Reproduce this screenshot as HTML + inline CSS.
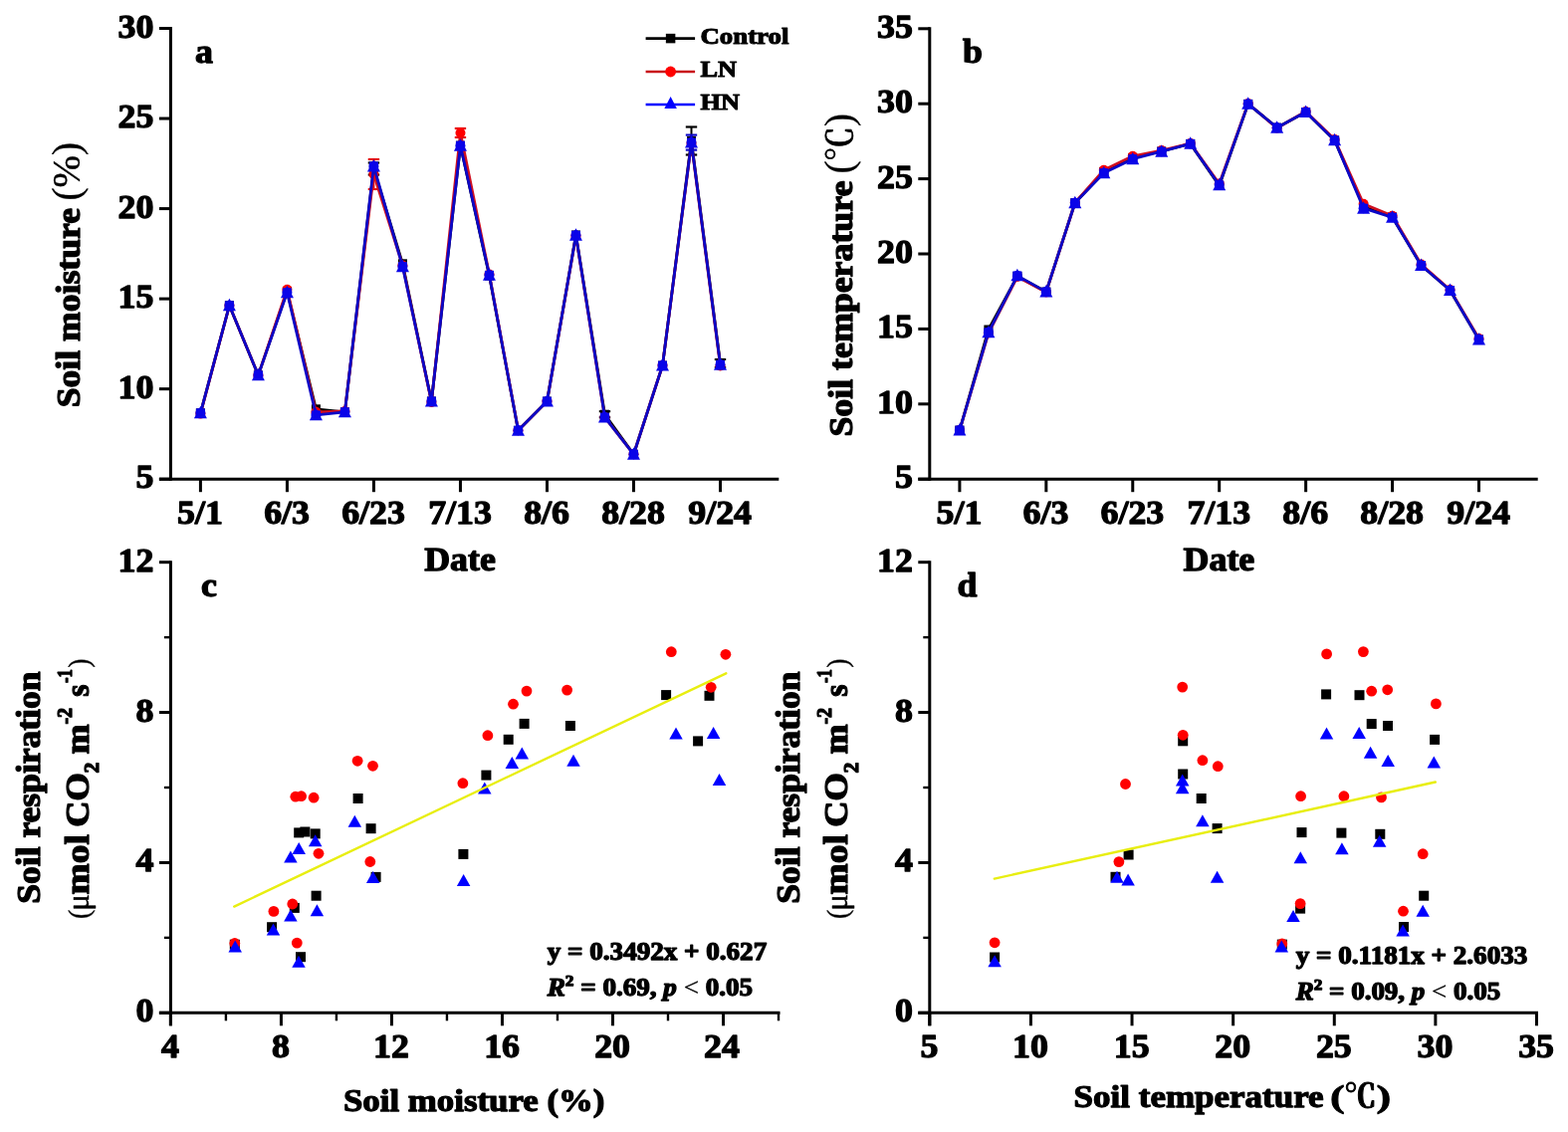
<!DOCTYPE html>
<html lang="en"><head><meta charset="utf-8"><title>Soil moisture, temperature and respiration</title>
<style>html,body{margin:0;padding:0;background:#fff}svg{display:block}text{white-space:pre}</style></head>
<body>
<svg width="1575" height="1137" viewBox="0 0 1575 1137" font-family='"Liberation Serif", serif' fill="#000">
<style>text{stroke:#000;stroke-width:1.25px;stroke-linejoin:round}</style>
<rect width="1575" height="1137" fill="#fff"/>
<g id="panel-a">
<line x1="171.40" y1="27.00" x2="171.40" y2="482.70" stroke="#000" stroke-width="3.0" />
<line x1="159.90" y1="481.20" x2="782.30" y2="481.20" stroke="#000" stroke-width="3.0" />
<line x1="159.90" y1="28.50" x2="171.40" y2="28.50" stroke="#000" stroke-width="3.0" />
<text transform="translate(154.40,37.50) scale(1.07,1)" font-size="33.5" text-anchor="end" font-weight="bold" >30</text>
<line x1="159.90" y1="119.04" x2="171.40" y2="119.04" stroke="#000" stroke-width="3.0" />
<text transform="translate(154.40,128.04) scale(1.07,1)" font-size="33.5" text-anchor="end" font-weight="bold" >25</text>
<line x1="159.90" y1="209.58" x2="171.40" y2="209.58" stroke="#000" stroke-width="3.0" />
<text transform="translate(154.40,218.58) scale(1.07,1)" font-size="33.5" text-anchor="end" font-weight="bold" >20</text>
<line x1="159.90" y1="300.12" x2="171.40" y2="300.12" stroke="#000" stroke-width="3.0" />
<text transform="translate(154.40,309.12) scale(1.07,1)" font-size="33.5" text-anchor="end" font-weight="bold" >15</text>
<line x1="159.90" y1="390.66" x2="171.40" y2="390.66" stroke="#000" stroke-width="3.0" />
<text transform="translate(154.40,399.66) scale(1.07,1)" font-size="33.5" text-anchor="end" font-weight="bold" >10</text>
<line x1="159.90" y1="481.20" x2="171.40" y2="481.20" stroke="#000" stroke-width="3.0" />
<text transform="translate(154.40,490.20) scale(1.07,1)" font-size="33.5" text-anchor="end" font-weight="bold" >5</text>
<line x1="201.40" y1="481.20" x2="201.40" y2="494.20" stroke="#000" stroke-width="3.0" />
<text transform="translate(201.00,526.00) scale(1.07,1)" font-size="33.5" text-anchor="middle" font-weight="bold" >5/1</text>
<line x1="288.42" y1="481.20" x2="288.42" y2="494.20" stroke="#000" stroke-width="3.0" />
<text transform="translate(288.02,526.00) scale(1.07,1)" font-size="33.5" text-anchor="middle" font-weight="bold" >6/3</text>
<line x1="375.43" y1="481.20" x2="375.43" y2="494.20" stroke="#000" stroke-width="3.0" />
<text transform="translate(375.03,526.00) scale(1.07,1)" font-size="33.5" text-anchor="middle" font-weight="bold" >6/23</text>
<line x1="462.45" y1="481.20" x2="462.45" y2="494.20" stroke="#000" stroke-width="3.0" />
<text transform="translate(462.05,526.00) scale(1.07,1)" font-size="33.5" text-anchor="middle" font-weight="bold" >7/13</text>
<line x1="549.47" y1="481.20" x2="549.47" y2="494.20" stroke="#000" stroke-width="3.0" />
<text transform="translate(549.07,526.00) scale(1.07,1)" font-size="33.5" text-anchor="middle" font-weight="bold" >8/6</text>
<line x1="636.48" y1="481.20" x2="636.48" y2="494.20" stroke="#000" stroke-width="3.0" />
<text transform="translate(636.08,526.00) scale(1.07,1)" font-size="33.5" text-anchor="middle" font-weight="bold" >8/28</text>
<line x1="723.50" y1="481.20" x2="723.50" y2="494.20" stroke="#000" stroke-width="3.0" />
<text transform="translate(723.10,526.00) scale(1.07,1)" font-size="33.5" text-anchor="middle" font-weight="bold" >9/24</text>
<text transform="translate(196.00,63.30) scale(1.07,1)" font-size="33.5" text-anchor="start" font-weight="bold" >a</text>
<text transform="translate(462.00,573.40) scale(1.07,1)" font-size="33.5" text-anchor="middle" font-weight="bold" >Date</text>
<text transform="translate(80.4,0) rotate(-90)" text-anchor="start"><tspan x="-409.3" y="0" font-size="33.5" font-weight="bold" textLength="200.3" lengthAdjust="spacingAndGlyphs">Soil moisture</tspan><tspan x="-206" y="0" font-size="20"> </tspan><tspan x="-201.5" y="-0.1" font-size="39" font-weight="normal" stroke-width="0.35">(%)</tspan></text>
<line x1="694.49" y1="127.50" x2="694.49" y2="155.50" stroke="#000" stroke-width="2" />
<line x1="688.79" y1="127.50" x2="700.19" y2="127.50" stroke="#000" stroke-width="2.2" />
<line x1="688.79" y1="155.50" x2="700.19" y2="155.50" stroke="#000" stroke-width="2.2" />
<line x1="375.43" y1="163.50" x2="375.43" y2="175.50" stroke="#000" stroke-width="2" />
<line x1="369.73" y1="163.50" x2="381.13" y2="163.50" stroke="#000" stroke-width="2.2" />
<line x1="369.73" y1="175.50" x2="381.13" y2="175.50" stroke="#000" stroke-width="2.2" />
<line x1="607.48" y1="413.20" x2="607.48" y2="419.20" stroke="#000" stroke-width="2" />
<line x1="601.78" y1="413.20" x2="613.18" y2="413.20" stroke="#000" stroke-width="2.2" />
<line x1="601.78" y1="419.20" x2="613.18" y2="419.20" stroke="#000" stroke-width="2.2" />
<line x1="723.50" y1="361.00" x2="723.50" y2="369.00" stroke="#000" stroke-width="2" />
<line x1="717.80" y1="361.00" x2="729.20" y2="361.00" stroke="#000" stroke-width="2.2" />
<line x1="717.80" y1="369.00" x2="729.20" y2="369.00" stroke="#000" stroke-width="2.2" />
<polyline points="201.4,414.8 230.4,306.8 259.4,376.9 288.4,292.5 317.4,410.8 346.4,413.8 375.4,169.5 404.4,264.8 433.4,403.0 462.5,146.2 491.5,277.0 520.5,432.3 549.5,403.1 578.5,236.0 607.5,416.2 636.5,456.3 665.5,367.1 694.5,141.5 723.5,365.0" fill="none" stroke="#000" stroke-width="2.8" stroke-linejoin="round"/>
<rect x="196.90" y="410.30" width="9" height="9" fill="#000"/>
<rect x="225.91" y="302.30" width="9" height="9" fill="#000"/>
<rect x="254.91" y="372.40" width="9" height="9" fill="#000"/>
<rect x="283.92" y="288.00" width="9" height="9" fill="#000"/>
<rect x="312.92" y="406.30" width="9" height="9" fill="#000"/>
<rect x="341.93" y="409.30" width="9" height="9" fill="#000"/>
<rect x="370.93" y="165.00" width="9" height="9" fill="#000"/>
<rect x="399.94" y="260.30" width="9" height="9" fill="#000"/>
<rect x="428.94" y="398.50" width="9" height="9" fill="#000"/>
<rect x="457.95" y="141.70" width="9" height="9" fill="#000"/>
<rect x="486.96" y="272.50" width="9" height="9" fill="#000"/>
<rect x="515.96" y="427.80" width="9" height="9" fill="#000"/>
<rect x="544.97" y="398.60" width="9" height="9" fill="#000"/>
<rect x="573.97" y="231.50" width="9" height="9" fill="#000"/>
<rect x="602.98" y="411.70" width="9" height="9" fill="#000"/>
<rect x="631.98" y="451.80" width="9" height="9" fill="#000"/>
<rect x="660.99" y="362.60" width="9" height="9" fill="#000"/>
<rect x="689.99" y="137.00" width="9" height="9" fill="#000"/>
<rect x="719.00" y="360.50" width="9" height="9" fill="#000"/>
<line x1="375.43" y1="160.00" x2="375.43" y2="190.00" stroke="#e81010" stroke-width="2" />
<line x1="369.73" y1="160.00" x2="381.13" y2="160.00" stroke="#e81010" stroke-width="2.2" />
<line x1="369.73" y1="190.00" x2="381.13" y2="190.00" stroke="#e81010" stroke-width="2.2" />
<line x1="462.45" y1="129.00" x2="462.45" y2="138.00" stroke="#e81010" stroke-width="2" />
<line x1="456.75" y1="129.00" x2="468.15" y2="129.00" stroke="#e81010" stroke-width="2.2" />
<line x1="456.75" y1="138.00" x2="468.15" y2="138.00" stroke="#e81010" stroke-width="2.2" />
<polyline points="201.4,415.6 230.4,306.8 259.4,376.9 288.4,290.8 317.4,413.8 346.4,413.0 375.4,175.0 404.4,266.5 433.4,404.0 462.5,133.5 491.5,275.5 520.5,432.3 549.5,403.1 578.5,237.0 607.5,419.1 636.5,456.3 665.5,367.1 694.5,144.0 723.5,367.5" fill="none" stroke="#d01020" stroke-width="2.8" stroke-linejoin="round"/>
<circle cx="201.40" cy="415.60" r="5" fill="#f00"/>
<circle cx="230.41" cy="306.80" r="5" fill="#f00"/>
<circle cx="259.41" cy="376.90" r="5" fill="#f00"/>
<circle cx="288.42" cy="290.80" r="5" fill="#f00"/>
<circle cx="317.42" cy="413.80" r="5" fill="#f00"/>
<circle cx="346.43" cy="413.00" r="5" fill="#f00"/>
<circle cx="375.43" cy="175.00" r="5" fill="#f00"/>
<circle cx="404.44" cy="266.50" r="5" fill="#f00"/>
<circle cx="433.44" cy="404.00" r="5" fill="#f00"/>
<circle cx="462.45" cy="133.50" r="5" fill="#f00"/>
<circle cx="491.46" cy="275.50" r="5" fill="#f00"/>
<circle cx="520.46" cy="432.30" r="5" fill="#f00"/>
<circle cx="549.47" cy="403.10" r="5" fill="#f00"/>
<circle cx="578.47" cy="237.00" r="5" fill="#f00"/>
<circle cx="607.48" cy="419.10" r="5" fill="#f00"/>
<circle cx="636.48" cy="456.30" r="5" fill="#f00"/>
<circle cx="665.49" cy="367.10" r="5" fill="#f00"/>
<circle cx="694.49" cy="144.00" r="5" fill="#f00"/>
<circle cx="723.50" cy="367.50" r="5" fill="#f00"/>
<line x1="694.49" y1="135.60" x2="694.49" y2="150.60" stroke="#0c06c6" stroke-width="2" />
<line x1="688.79" y1="135.60" x2="700.19" y2="135.60" stroke="#0c06c6" stroke-width="2.2" />
<line x1="688.79" y1="150.60" x2="700.19" y2="150.60" stroke="#0c06c6" stroke-width="2.2" />
<polyline points="201.4,414.8 230.4,306.8 259.4,376.9 288.4,293.8 317.4,416.9 346.4,413.8 375.4,167.0 404.4,267.7 433.4,403.0 462.5,146.2 491.5,276.3 520.5,432.3 549.5,403.1 578.5,236.3 607.5,419.1 636.5,456.3 665.5,367.1 694.5,143.1 723.5,366.2" fill="none" stroke="#0c06c6" stroke-width="2.8" stroke-linejoin="round"/>
<rect x="196.90" y="410.30" width="9" height="9" fill="#0a04e8"/>
<circle cx="201.40" cy="414.80" r="5" fill="#0a04e8"/>
<polygon points="201.40,407.75 194.90,420.25 207.90,420.25" fill="#0a04e8"/>
<rect x="225.91" y="302.30" width="9" height="9" fill="#0a04e8"/>
<circle cx="230.41" cy="306.80" r="5" fill="#0a04e8"/>
<polygon points="230.41,299.75 223.91,312.25 236.91,312.25" fill="#0a04e8"/>
<rect x="254.91" y="372.40" width="9" height="9" fill="#0a04e8"/>
<circle cx="259.41" cy="376.90" r="5" fill="#0a04e8"/>
<polygon points="259.41,369.85 252.91,382.35 265.91,382.35" fill="#0a04e8"/>
<rect x="283.92" y="289.30" width="9" height="9" fill="#0a04e8"/>
<circle cx="288.42" cy="293.80" r="5" fill="#0a04e8"/>
<polygon points="288.42,286.75 281.92,299.25 294.92,299.25" fill="#0a04e8"/>
<rect x="312.92" y="412.40" width="9" height="9" fill="#0a04e8"/>
<circle cx="317.42" cy="416.90" r="5" fill="#0a04e8"/>
<polygon points="317.42,409.85 310.92,422.35 323.92,422.35" fill="#0a04e8"/>
<rect x="341.93" y="409.30" width="9" height="9" fill="#0a04e8"/>
<circle cx="346.43" cy="413.80" r="5" fill="#0a04e8"/>
<polygon points="346.43,406.75 339.93,419.25 352.93,419.25" fill="#0a04e8"/>
<rect x="370.93" y="162.50" width="9" height="9" fill="#0a04e8"/>
<circle cx="375.43" cy="167.00" r="5" fill="#0a04e8"/>
<polygon points="375.43,159.95 368.93,172.45 381.93,172.45" fill="#0a04e8"/>
<rect x="399.94" y="263.20" width="9" height="9" fill="#0a04e8"/>
<circle cx="404.44" cy="267.70" r="5" fill="#0a04e8"/>
<polygon points="404.44,260.65 397.94,273.15 410.94,273.15" fill="#0a04e8"/>
<rect x="428.94" y="398.50" width="9" height="9" fill="#0a04e8"/>
<circle cx="433.44" cy="403.00" r="5" fill="#0a04e8"/>
<polygon points="433.44,395.95 426.94,408.45 439.94,408.45" fill="#0a04e8"/>
<rect x="457.95" y="141.70" width="9" height="9" fill="#0a04e8"/>
<circle cx="462.45" cy="146.20" r="5" fill="#0a04e8"/>
<polygon points="462.45,139.15 455.95,151.65 468.95,151.65" fill="#0a04e8"/>
<rect x="486.96" y="271.80" width="9" height="9" fill="#0a04e8"/>
<circle cx="491.46" cy="276.30" r="5" fill="#0a04e8"/>
<polygon points="491.46,269.25 484.96,281.75 497.96,281.75" fill="#0a04e8"/>
<rect x="515.96" y="427.80" width="9" height="9" fill="#0a04e8"/>
<circle cx="520.46" cy="432.30" r="5" fill="#0a04e8"/>
<polygon points="520.46,425.25 513.96,437.75 526.96,437.75" fill="#0a04e8"/>
<rect x="544.97" y="398.60" width="9" height="9" fill="#0a04e8"/>
<circle cx="549.47" cy="403.10" r="5" fill="#0a04e8"/>
<polygon points="549.47,396.05 542.97,408.55 555.97,408.55" fill="#0a04e8"/>
<rect x="573.97" y="231.80" width="9" height="9" fill="#0a04e8"/>
<circle cx="578.47" cy="236.30" r="5" fill="#0a04e8"/>
<polygon points="578.47,229.25 571.97,241.75 584.97,241.75" fill="#0a04e8"/>
<rect x="602.98" y="414.60" width="9" height="9" fill="#0a04e8"/>
<circle cx="607.48" cy="419.10" r="5" fill="#0a04e8"/>
<polygon points="607.48,412.05 600.98,424.55 613.98,424.55" fill="#0a04e8"/>
<rect x="631.98" y="451.80" width="9" height="9" fill="#0a04e8"/>
<circle cx="636.48" cy="456.30" r="5" fill="#0a04e8"/>
<polygon points="636.48,449.25 629.98,461.75 642.98,461.75" fill="#0a04e8"/>
<rect x="660.99" y="362.60" width="9" height="9" fill="#0a04e8"/>
<circle cx="665.49" cy="367.10" r="5" fill="#0a04e8"/>
<polygon points="665.49,360.05 658.99,372.55 671.99,372.55" fill="#0a04e8"/>
<rect x="689.99" y="138.60" width="9" height="9" fill="#0a04e8"/>
<circle cx="694.49" cy="143.10" r="5" fill="#0a04e8"/>
<polygon points="694.49,136.05 687.99,148.55 700.99,148.55" fill="#0a04e8"/>
<rect x="719.00" y="361.70" width="9" height="9" fill="#0a04e8"/>
<circle cx="723.50" cy="366.20" r="5" fill="#0a04e8"/>
<polygon points="723.50,359.15 717.00,371.65 730.00,371.65" fill="#0a04e8"/>
<line x1="648.60" y1="38.60" x2="698.10" y2="38.60" stroke="#000" stroke-width="2.7" />
<rect x="668.85" y="33.85" width="9.5" height="9.5" fill="#000"/>
<text transform="translate(703.40,44.00) scale(1,1)" font-size="22.6" text-anchor="start" font-weight="bold" style="stroke-width:1px" textLength="89.0" lengthAdjust="spacingAndGlyphs">Control</text>
<line x1="648.60" y1="72.00" x2="698.10" y2="72.00" stroke="#c81018" stroke-width="2.7" />
<circle cx="673.60" cy="72.00" r="5.4" fill="#f00"/>
<text transform="translate(703.40,76.60) scale(1,1)" font-size="22.6" text-anchor="start" font-weight="bold" style="stroke-width:1px" textLength="36.5" lengthAdjust="spacingAndGlyphs">LN</text>
<line x1="648.60" y1="105.00" x2="698.10" y2="105.00" stroke="#0000ff" stroke-width="2.7" />
<polygon points="673.60,96.90 667.35,108.90 679.85,108.90" fill="#00f"/>
<text transform="translate(703.40,109.80) scale(1,1)" font-size="22.6" text-anchor="start" font-weight="bold" style="stroke-width:1px" textLength="39.5" lengthAdjust="spacingAndGlyphs">HN</text>
</g>
<g id="panel-b">
<line x1="933.80" y1="27.30" x2="933.80" y2="482.70" stroke="#000" stroke-width="3.0" />
<line x1="922.30" y1="481.20" x2="1544.70" y2="481.20" stroke="#000" stroke-width="3.0" />
<line x1="922.30" y1="28.80" x2="933.80" y2="28.80" stroke="#000" stroke-width="3.0" />
<text transform="translate(916.80,37.80) scale(1.07,1)" font-size="33.5" text-anchor="end" font-weight="bold" >35</text>
<line x1="922.30" y1="104.20" x2="933.80" y2="104.20" stroke="#000" stroke-width="3.0" />
<text transform="translate(916.80,113.20) scale(1.07,1)" font-size="33.5" text-anchor="end" font-weight="bold" >30</text>
<line x1="922.30" y1="179.60" x2="933.80" y2="179.60" stroke="#000" stroke-width="3.0" />
<text transform="translate(916.80,188.60) scale(1.07,1)" font-size="33.5" text-anchor="end" font-weight="bold" >25</text>
<line x1="922.30" y1="255.00" x2="933.80" y2="255.00" stroke="#000" stroke-width="3.0" />
<text transform="translate(916.80,264.00) scale(1.07,1)" font-size="33.5" text-anchor="end" font-weight="bold" >20</text>
<line x1="922.30" y1="330.40" x2="933.80" y2="330.40" stroke="#000" stroke-width="3.0" />
<text transform="translate(916.80,339.40) scale(1.07,1)" font-size="33.5" text-anchor="end" font-weight="bold" >15</text>
<line x1="922.30" y1="405.80" x2="933.80" y2="405.80" stroke="#000" stroke-width="3.0" />
<text transform="translate(916.80,414.80) scale(1.07,1)" font-size="33.5" text-anchor="end" font-weight="bold" >10</text>
<line x1="922.30" y1="481.20" x2="933.80" y2="481.20" stroke="#000" stroke-width="3.0" />
<text transform="translate(916.80,490.20) scale(1.07,1)" font-size="33.5" text-anchor="end" font-weight="bold" >5</text>
<line x1="963.90" y1="481.20" x2="963.90" y2="494.20" stroke="#000" stroke-width="3.0" />
<text transform="translate(963.50,526.00) scale(1.07,1)" font-size="33.5" text-anchor="middle" font-weight="bold" >5/1</text>
<line x1="1050.83" y1="481.20" x2="1050.83" y2="494.20" stroke="#000" stroke-width="3.0" />
<text transform="translate(1050.43,526.00) scale(1.07,1)" font-size="33.5" text-anchor="middle" font-weight="bold" >6/3</text>
<line x1="1137.77" y1="481.20" x2="1137.77" y2="494.20" stroke="#000" stroke-width="3.0" />
<text transform="translate(1137.37,526.00) scale(1.07,1)" font-size="33.5" text-anchor="middle" font-weight="bold" >6/23</text>
<line x1="1224.70" y1="481.20" x2="1224.70" y2="494.20" stroke="#000" stroke-width="3.0" />
<text transform="translate(1224.30,526.00) scale(1.07,1)" font-size="33.5" text-anchor="middle" font-weight="bold" >7/13</text>
<line x1="1311.63" y1="481.20" x2="1311.63" y2="494.20" stroke="#000" stroke-width="3.0" />
<text transform="translate(1311.23,526.00) scale(1.07,1)" font-size="33.5" text-anchor="middle" font-weight="bold" >8/6</text>
<line x1="1398.57" y1="481.20" x2="1398.57" y2="494.20" stroke="#000" stroke-width="3.0" />
<text transform="translate(1398.17,526.00) scale(1.07,1)" font-size="33.5" text-anchor="middle" font-weight="bold" >8/28</text>
<line x1="1485.50" y1="481.20" x2="1485.50" y2="494.20" stroke="#000" stroke-width="3.0" />
<text transform="translate(1485.10,526.00) scale(1.07,1)" font-size="33.5" text-anchor="middle" font-weight="bold" >9/24</text>
<text transform="translate(967.00,63.30) scale(1.07,1)" font-size="33.5" text-anchor="start" font-weight="bold" >b</text>
<text transform="translate(1224.40,573.40) scale(1.07,1)" font-size="33.5" text-anchor="middle" font-weight="bold" >Date</text>
<text transform="translate(855.6,0) rotate(-90)" text-anchor="start"><tspan x="-438.6" y="0" font-size="33.5" font-weight="bold" textLength="257" lengthAdjust="spacingAndGlyphs">Soil temperature</tspan><tspan x="-180" y="0" font-size="20"> </tspan><tspan x="-174.5" y="0.1" font-size="39" font-weight="normal" stroke-width="0.3">(</tspan><tspan x="-162.2" y="0" font-size="35.5" font-weight="500" stroke-width="0.6" font-family='"Noto Serif CJK SC",serif'>℃</tspan><tspan x="-126.9" y="0.1" font-size="39" font-weight="normal" stroke-width="0.3">)</tspan></text>
<polyline points="963.9,432.1 992.9,331.0 1021.9,277.5 1050.8,293.1 1079.8,203.7 1108.8,172.5 1137.8,158.5 1166.7,152.0 1195.7,144.4 1224.7,186.5 1253.7,104.4 1282.7,128.2 1311.6,112.5 1340.6,140.9 1369.6,207.5 1398.6,218.0 1427.5,266.5 1456.5,291.5 1485.5,341.0" fill="none" stroke="#000" stroke-width="2.8" stroke-linejoin="round"/>
<rect x="959.40" y="427.60" width="9" height="9" fill="#000"/>
<rect x="988.38" y="326.50" width="9" height="9" fill="#000"/>
<rect x="1017.36" y="273.00" width="9" height="9" fill="#000"/>
<rect x="1046.33" y="288.60" width="9" height="9" fill="#000"/>
<rect x="1075.31" y="199.20" width="9" height="9" fill="#000"/>
<rect x="1104.29" y="168.00" width="9" height="9" fill="#000"/>
<rect x="1133.27" y="154.00" width="9" height="9" fill="#000"/>
<rect x="1162.24" y="147.50" width="9" height="9" fill="#000"/>
<rect x="1191.22" y="139.90" width="9" height="9" fill="#000"/>
<rect x="1220.20" y="182.00" width="9" height="9" fill="#000"/>
<rect x="1249.18" y="99.90" width="9" height="9" fill="#000"/>
<rect x="1278.16" y="123.70" width="9" height="9" fill="#000"/>
<rect x="1307.13" y="108.00" width="9" height="9" fill="#000"/>
<rect x="1336.11" y="136.40" width="9" height="9" fill="#000"/>
<rect x="1365.09" y="203.00" width="9" height="9" fill="#000"/>
<rect x="1394.07" y="213.50" width="9" height="9" fill="#000"/>
<rect x="1423.04" y="262.00" width="9" height="9" fill="#000"/>
<rect x="1452.02" y="287.00" width="9" height="9" fill="#000"/>
<rect x="1481.00" y="336.50" width="9" height="9" fill="#000"/>
<polyline points="963.9,432.1 992.9,334.5 1021.9,278.0 1050.8,293.5 1079.8,203.7 1108.8,170.8 1137.8,156.8 1166.7,151.0 1195.7,144.0 1224.7,184.5 1253.7,104.0 1282.7,128.6 1311.6,112.0 1340.6,140.0 1369.6,204.8 1398.6,216.8 1427.5,265.5 1456.5,291.0 1485.5,340.0" fill="none" stroke="#d01020" stroke-width="2.8" stroke-linejoin="round"/>
<circle cx="963.90" cy="432.10" r="5" fill="#f00"/>
<circle cx="992.88" cy="334.50" r="5" fill="#f00"/>
<circle cx="1021.86" cy="278.00" r="5" fill="#f00"/>
<circle cx="1050.83" cy="293.50" r="5" fill="#f00"/>
<circle cx="1079.81" cy="203.70" r="5" fill="#f00"/>
<circle cx="1108.79" cy="170.80" r="5" fill="#f00"/>
<circle cx="1137.77" cy="156.80" r="5" fill="#f00"/>
<circle cx="1166.74" cy="151.00" r="5" fill="#f00"/>
<circle cx="1195.72" cy="144.00" r="5" fill="#f00"/>
<circle cx="1224.70" cy="184.50" r="5" fill="#f00"/>
<circle cx="1253.68" cy="104.00" r="5" fill="#f00"/>
<circle cx="1282.66" cy="128.60" r="5" fill="#f00"/>
<circle cx="1311.63" cy="112.00" r="5" fill="#f00"/>
<circle cx="1340.61" cy="140.00" r="5" fill="#f00"/>
<circle cx="1369.59" cy="204.80" r="5" fill="#f00"/>
<circle cx="1398.57" cy="216.80" r="5" fill="#f00"/>
<circle cx="1427.54" cy="265.50" r="5" fill="#f00"/>
<circle cx="1456.52" cy="291.00" r="5" fill="#f00"/>
<circle cx="1485.50" cy="340.00" r="5" fill="#f00"/>
<polyline points="963.9,432.1 992.9,333.8 1021.9,276.9 1050.8,293.1 1079.8,203.7 1108.8,173.7 1137.8,159.7 1166.7,152.2 1195.7,144.4 1224.7,185.8 1253.7,104.4 1282.7,128.2 1311.6,112.5 1340.6,140.9 1369.6,209.2 1398.6,218.3 1427.5,266.5 1456.5,291.5 1485.5,341.0" fill="none" stroke="#0c06c6" stroke-width="2.8" stroke-linejoin="round"/>
<rect x="959.40" y="427.60" width="9" height="9" fill="#0a04e8"/>
<circle cx="963.90" cy="432.10" r="5" fill="#0a04e8"/>
<polygon points="963.90,425.05 957.40,437.55 970.40,437.55" fill="#0a04e8"/>
<rect x="988.38" y="329.30" width="9" height="9" fill="#0a04e8"/>
<circle cx="992.88" cy="333.80" r="5" fill="#0a04e8"/>
<polygon points="992.88,326.75 986.38,339.25 999.38,339.25" fill="#0a04e8"/>
<rect x="1017.36" y="272.40" width="9" height="9" fill="#0a04e8"/>
<circle cx="1021.86" cy="276.90" r="5" fill="#0a04e8"/>
<polygon points="1021.86,269.85 1015.36,282.35 1028.36,282.35" fill="#0a04e8"/>
<rect x="1046.33" y="288.60" width="9" height="9" fill="#0a04e8"/>
<circle cx="1050.83" cy="293.10" r="5" fill="#0a04e8"/>
<polygon points="1050.83,286.05 1044.33,298.55 1057.33,298.55" fill="#0a04e8"/>
<rect x="1075.31" y="199.20" width="9" height="9" fill="#0a04e8"/>
<circle cx="1079.81" cy="203.70" r="5" fill="#0a04e8"/>
<polygon points="1079.81,196.65 1073.31,209.15 1086.31,209.15" fill="#0a04e8"/>
<rect x="1104.29" y="169.20" width="9" height="9" fill="#0a04e8"/>
<circle cx="1108.79" cy="173.70" r="5" fill="#0a04e8"/>
<polygon points="1108.79,166.65 1102.29,179.15 1115.29,179.15" fill="#0a04e8"/>
<rect x="1133.27" y="155.20" width="9" height="9" fill="#0a04e8"/>
<circle cx="1137.77" cy="159.70" r="5" fill="#0a04e8"/>
<polygon points="1137.77,152.65 1131.27,165.15 1144.27,165.15" fill="#0a04e8"/>
<rect x="1162.24" y="147.70" width="9" height="9" fill="#0a04e8"/>
<circle cx="1166.74" cy="152.20" r="5" fill="#0a04e8"/>
<polygon points="1166.74,145.15 1160.24,157.65 1173.24,157.65" fill="#0a04e8"/>
<rect x="1191.22" y="139.90" width="9" height="9" fill="#0a04e8"/>
<circle cx="1195.72" cy="144.40" r="5" fill="#0a04e8"/>
<polygon points="1195.72,137.35 1189.22,149.85 1202.22,149.85" fill="#0a04e8"/>
<rect x="1220.20" y="181.30" width="9" height="9" fill="#0a04e8"/>
<circle cx="1224.70" cy="185.80" r="5" fill="#0a04e8"/>
<polygon points="1224.70,178.75 1218.20,191.25 1231.20,191.25" fill="#0a04e8"/>
<rect x="1249.18" y="99.90" width="9" height="9" fill="#0a04e8"/>
<circle cx="1253.68" cy="104.40" r="5" fill="#0a04e8"/>
<polygon points="1253.68,97.35 1247.18,109.85 1260.18,109.85" fill="#0a04e8"/>
<rect x="1278.16" y="123.70" width="9" height="9" fill="#0a04e8"/>
<circle cx="1282.66" cy="128.20" r="5" fill="#0a04e8"/>
<polygon points="1282.66,121.15 1276.16,133.65 1289.16,133.65" fill="#0a04e8"/>
<rect x="1307.13" y="108.00" width="9" height="9" fill="#0a04e8"/>
<circle cx="1311.63" cy="112.50" r="5" fill="#0a04e8"/>
<polygon points="1311.63,105.45 1305.13,117.95 1318.13,117.95" fill="#0a04e8"/>
<rect x="1336.11" y="136.40" width="9" height="9" fill="#0a04e8"/>
<circle cx="1340.61" cy="140.90" r="5" fill="#0a04e8"/>
<polygon points="1340.61,133.85 1334.11,146.35 1347.11,146.35" fill="#0a04e8"/>
<rect x="1365.09" y="204.70" width="9" height="9" fill="#0a04e8"/>
<circle cx="1369.59" cy="209.20" r="5" fill="#0a04e8"/>
<polygon points="1369.59,202.15 1363.09,214.65 1376.09,214.65" fill="#0a04e8"/>
<rect x="1394.07" y="213.80" width="9" height="9" fill="#0a04e8"/>
<circle cx="1398.57" cy="218.30" r="5" fill="#0a04e8"/>
<polygon points="1398.57,211.25 1392.07,223.75 1405.07,223.75" fill="#0a04e8"/>
<rect x="1423.04" y="262.00" width="9" height="9" fill="#0a04e8"/>
<circle cx="1427.54" cy="266.50" r="5" fill="#0a04e8"/>
<polygon points="1427.54,259.45 1421.04,271.95 1434.04,271.95" fill="#0a04e8"/>
<rect x="1452.02" y="287.00" width="9" height="9" fill="#0a04e8"/>
<circle cx="1456.52" cy="291.50" r="5" fill="#0a04e8"/>
<polygon points="1456.52,284.45 1450.02,296.95 1463.02,296.95" fill="#0a04e8"/>
<rect x="1481.00" y="336.50" width="9" height="9" fill="#0a04e8"/>
<circle cx="1485.50" cy="341.00" r="5" fill="#0a04e8"/>
<polygon points="1485.50,333.95 1479.00,346.45 1492.00,346.45" fill="#0a04e8"/>
</g>
<g id="panel-c">
<line x1="171.40" y1="563.20" x2="171.40" y2="1030.30" stroke="#000" stroke-width="3.0" />
<line x1="159.90" y1="1017.30" x2="783.50" y2="1017.30" stroke="#000" stroke-width="3.0" />
<line x1="159.90" y1="564.70" x2="171.40" y2="564.70" stroke="#000" stroke-width="3.0" />
<text transform="translate(154.40,573.70) scale(1.07,1)" font-size="33.5" text-anchor="end" font-weight="bold" >12</text>
<line x1="159.90" y1="715.57" x2="171.40" y2="715.57" stroke="#000" stroke-width="3.0" />
<text transform="translate(154.40,724.57) scale(1.07,1)" font-size="33.5" text-anchor="end" font-weight="bold" >8</text>
<line x1="159.90" y1="866.43" x2="171.40" y2="866.43" stroke="#000" stroke-width="3.0" />
<text transform="translate(154.40,875.43) scale(1.07,1)" font-size="33.5" text-anchor="end" font-weight="bold" >4</text>
<line x1="159.90" y1="1017.30" x2="171.40" y2="1017.30" stroke="#000" stroke-width="3.0" />
<text transform="translate(154.40,1026.30) scale(1.07,1)" font-size="33.5" text-anchor="end" font-weight="bold" >0</text>
<line x1="164.90" y1="640.13" x2="171.40" y2="640.13" stroke="#000" stroke-width="2.4" />
<line x1="164.90" y1="791.00" x2="171.40" y2="791.00" stroke="#000" stroke-width="2.4" />
<line x1="164.90" y1="941.87" x2="171.40" y2="941.87" stroke="#000" stroke-width="2.4" />
<line x1="171.40" y1="1017.30" x2="171.40" y2="1030.30" stroke="#000" stroke-width="3.0" />
<text transform="translate(171.00,1062.10) scale(1.07,1)" font-size="33.5" text-anchor="middle" font-weight="bold" >4</text>
<line x1="282.42" y1="1017.30" x2="282.42" y2="1030.30" stroke="#000" stroke-width="3.0" />
<text transform="translate(282.02,1062.10) scale(1.07,1)" font-size="33.5" text-anchor="middle" font-weight="bold" >8</text>
<line x1="393.44" y1="1017.30" x2="393.44" y2="1030.30" stroke="#000" stroke-width="3.0" />
<text transform="translate(393.04,1062.10) scale(1.07,1)" font-size="33.5" text-anchor="middle" font-weight="bold" >12</text>
<line x1="504.46" y1="1017.30" x2="504.46" y2="1030.30" stroke="#000" stroke-width="3.0" />
<text transform="translate(504.06,1062.10) scale(1.07,1)" font-size="33.5" text-anchor="middle" font-weight="bold" >16</text>
<line x1="615.48" y1="1017.30" x2="615.48" y2="1030.30" stroke="#000" stroke-width="3.0" />
<text transform="translate(615.08,1062.10) scale(1.07,1)" font-size="33.5" text-anchor="middle" font-weight="bold" >20</text>
<line x1="726.50" y1="1017.30" x2="726.50" y2="1030.30" stroke="#000" stroke-width="3.0" />
<text transform="translate(724.90,1062.10) scale(1.07,1)" font-size="33.5" text-anchor="middle" font-weight="bold" >24</text>
<line x1="226.91" y1="1017.30" x2="226.91" y2="1025.30" stroke="#000" stroke-width="2.4" />
<line x1="337.93" y1="1017.30" x2="337.93" y2="1025.30" stroke="#000" stroke-width="2.4" />
<line x1="448.95" y1="1017.30" x2="448.95" y2="1025.30" stroke="#000" stroke-width="2.4" />
<line x1="559.97" y1="1017.30" x2="559.97" y2="1025.30" stroke="#000" stroke-width="2.4" />
<line x1="670.99" y1="1017.30" x2="670.99" y2="1025.30" stroke="#000" stroke-width="2.4" />
<line x1="782.01" y1="1017.30" x2="782.01" y2="1025.30" stroke="#000" stroke-width="2.4" />
<text transform="translate(202.00,599.40) scale(1.07,1)" font-size="33.5" text-anchor="start" font-weight="bold" >c</text>
<text x="476.2" y="1116.3" font-size="32.3" font-weight="bold" text-anchor="middle" textLength="262.5" lengthAdjust="spacingAndGlyphs">Soil moisture (%)</text>
<text transform="translate(39.8,791.1) rotate(-90)" font-size="33.5" font-weight="bold" text-anchor="middle" textLength="233.2" lengthAdjust="spacingAndGlyphs">Soil respiration</text>
<text transform="translate(88.60,0) rotate(-90)" text-anchor="start"><tspan x="-923.00" y="0" font-size="29" font-weight="normal" textLength="9.3" lengthAdjust="spacingAndGlyphs" stroke-width="0.3">(</tspan><tspan x="-914.80" y="0" font-size="31" font-weight="normal" stroke-width="0.5">μ</tspan><tspan x="-898.40" y="0" font-size="33.5" font-weight="bold" textLength="60.4" lengthAdjust="spacingAndGlyphs">mol</tspan><tspan x="-833.00" y="0" font-size="33.5" font-weight="bold"> </tspan><tspan x="-830.80" y="0" font-size="33.5" font-weight="bold" textLength="54.5" lengthAdjust="spacingAndGlyphs">CO</tspan><tspan x="-776.50" y="10.5" font-size="22" font-weight="bold" textLength="10.8" lengthAdjust="spacingAndGlyphs">2</tspan><tspan x="-762.00" y="0" font-size="33.5" font-weight="bold"> </tspan><tspan x="-757.50" y="0" font-size="33.5" font-weight="bold" textLength="30.2" lengthAdjust="spacingAndGlyphs">m</tspan><tspan x="-727.60" y="-16.5" font-size="22" font-weight="bold" textLength="16.8" lengthAdjust="spacingAndGlyphs">-2</tspan><tspan x="-706.00" y="0" font-size="33.5" font-weight="bold"> </tspan><tspan x="-699.70" y="0" font-size="33.5" font-weight="bold" textLength="12.3" lengthAdjust="spacingAndGlyphs">s</tspan><tspan x="-685.90" y="-16.5" font-size="22" font-weight="bold" textLength="13.8" lengthAdjust="spacingAndGlyphs">-1</tspan><tspan x="-670.80" y="0" font-size="29" font-weight="normal" textLength="9.3" lengthAdjust="spacingAndGlyphs" stroke-width="0.3">)</tspan></text>
<rect x="354.60" y="797.00" width="10" height="10" fill="#000"/>
<rect x="367.60" y="827.20" width="10" height="10" fill="#000"/>
<rect x="295.20" y="831.40" width="10" height="10" fill="#000"/>
<rect x="301.40" y="830.50" width="10" height="10" fill="#000"/>
<rect x="311.70" y="832.40" width="10" height="10" fill="#000"/>
<rect x="372.60" y="875.90" width="10" height="10" fill="#000"/>
<rect x="312.60" y="894.70" width="10" height="10" fill="#000"/>
<rect x="290.80" y="906.90" width="10" height="10" fill="#000"/>
<rect x="268.10" y="926.20" width="10" height="10" fill="#000"/>
<rect x="297.00" y="956.20" width="10" height="10" fill="#000"/>
<rect x="230.80" y="943.70" width="10" height="10" fill="#000"/>
<rect x="460.40" y="852.90" width="10" height="10" fill="#000"/>
<rect x="483.40" y="773.60" width="10" height="10" fill="#000"/>
<rect x="505.70" y="737.80" width="10" height="10" fill="#000"/>
<rect x="521.60" y="721.90" width="10" height="10" fill="#000"/>
<rect x="567.90" y="724.00" width="10" height="10" fill="#000"/>
<rect x="664.10" y="693.10" width="10" height="10" fill="#000"/>
<rect x="696.10" y="739.40" width="10" height="10" fill="#000"/>
<rect x="707.50" y="693.80" width="10" height="10" fill="#000"/>
<circle cx="359.10" cy="764.30" r="5.4" fill="#f00"/>
<circle cx="374.50" cy="769.30" r="5.4" fill="#f00"/>
<circle cx="296.80" cy="800.20" r="5.4" fill="#f00"/>
<circle cx="302.60" cy="799.70" r="5.4" fill="#f00"/>
<circle cx="315.10" cy="801.20" r="5.4" fill="#f00"/>
<circle cx="320.00" cy="857.30" r="5.4" fill="#f00"/>
<circle cx="371.80" cy="865.50" r="5.4" fill="#f00"/>
<circle cx="293.80" cy="908.00" r="5.4" fill="#f00"/>
<circle cx="274.90" cy="915.40" r="5.4" fill="#f00"/>
<circle cx="298.30" cy="947.10" r="5.4" fill="#f00"/>
<circle cx="235.80" cy="947.50" r="5.4" fill="#f00"/>
<circle cx="464.90" cy="786.70" r="5.4" fill="#f00"/>
<circle cx="489.90" cy="738.70" r="5.4" fill="#f00"/>
<circle cx="515.50" cy="707.20" r="5.4" fill="#f00"/>
<circle cx="529.00" cy="694.10" r="5.4" fill="#f00"/>
<circle cx="569.60" cy="693.10" r="5.4" fill="#f00"/>
<circle cx="674.30" cy="654.70" r="5.4" fill="#f00"/>
<circle cx="728.90" cy="657.30" r="5.4" fill="#f00"/>
<circle cx="714.20" cy="690.30" r="5.4" fill="#f00"/>
<polygon points="356.30,818.80 349.55,830.80 363.05,830.80" fill="#00f"/>
<polygon points="316.70,838.20 309.95,850.20 323.45,850.20" fill="#00f"/>
<polygon points="300.20,845.90 293.45,857.90 306.95,857.90" fill="#00f"/>
<polygon points="291.90,854.60 285.15,866.60 298.65,866.60" fill="#00f"/>
<polygon points="374.70,874.90 367.95,886.90 381.45,886.90" fill="#00f"/>
<polygon points="318.40,908.20 311.65,920.20 325.15,920.20" fill="#00f"/>
<polygon points="291.90,913.60 285.15,925.60 298.65,925.60" fill="#00f"/>
<polygon points="274.50,927.60 267.75,939.60 281.25,939.60" fill="#00f"/>
<polygon points="300.00,959.70 293.25,971.70 306.75,971.70" fill="#00f"/>
<polygon points="236.20,944.60 229.45,956.60 242.95,956.60" fill="#00f"/>
<polygon points="465.60,878.00 458.85,890.00 472.35,890.00" fill="#00f"/>
<polygon points="486.80,785.40 480.05,797.40 493.55,797.40" fill="#00f"/>
<polygon points="514.30,760.00 507.55,772.00 521.05,772.00" fill="#00f"/>
<polygon points="524.30,750.50 517.55,762.50 531.05,762.50" fill="#00f"/>
<polygon points="576.00,757.70 569.25,769.70 582.75,769.70" fill="#00f"/>
<polygon points="679.00,730.40 672.25,742.40 685.75,742.40" fill="#00f"/>
<polygon points="716.60,730.10 709.85,742.10 723.35,742.10" fill="#00f"/>
<polygon points="722.50,777.10 715.75,789.10 729.25,789.10" fill="#00f"/>
<line x1="235.20" y1="910.60" x2="729.30" y2="676.30" stroke="#e8ee10" stroke-width="2.4" stroke-linecap="round"/>
<text x="549.8" y="963.6" font-size="24.5" font-weight="bold" textLength="220.4" lengthAdjust="spacingAndGlyphs">y = 0.3492x + 0.627</text>
<text x="549.8" y="1000.0" font-size="24.5" font-weight="bold" textLength="206.3" lengthAdjust="spacingAndGlyphs"><tspan font-style="italic">R</tspan><tspan font-size="15.5" dy="-10">2</tspan><tspan dy="10"> = 0.69, </tspan><tspan font-style="italic">p</tspan> <tspan font-weight="normal" stroke-width="0.3">&lt;</tspan> 0.05</text>
</g>
<g id="panel-d">
<line x1="933.80" y1="563.20" x2="933.80" y2="1030.30" stroke="#000" stroke-width="3.0" />
<line x1="922.30" y1="1017.30" x2="1545.00" y2="1017.30" stroke="#000" stroke-width="3.0" />
<line x1="922.30" y1="564.70" x2="933.80" y2="564.70" stroke="#000" stroke-width="3.0" />
<text transform="translate(916.80,573.70) scale(1.07,1)" font-size="33.5" text-anchor="end" font-weight="bold" >12</text>
<line x1="922.30" y1="715.57" x2="933.80" y2="715.57" stroke="#000" stroke-width="3.0" />
<text transform="translate(916.80,724.57) scale(1.07,1)" font-size="33.5" text-anchor="end" font-weight="bold" >8</text>
<line x1="922.30" y1="866.43" x2="933.80" y2="866.43" stroke="#000" stroke-width="3.0" />
<text transform="translate(916.80,875.43) scale(1.07,1)" font-size="33.5" text-anchor="end" font-weight="bold" >4</text>
<line x1="922.30" y1="1017.30" x2="933.80" y2="1017.30" stroke="#000" stroke-width="3.0" />
<text transform="translate(916.80,1026.30) scale(1.07,1)" font-size="33.5" text-anchor="end" font-weight="bold" >0</text>
<line x1="927.30" y1="640.13" x2="933.80" y2="640.13" stroke="#000" stroke-width="2.4" />
<line x1="927.30" y1="791.00" x2="933.80" y2="791.00" stroke="#000" stroke-width="2.4" />
<line x1="927.30" y1="941.87" x2="933.80" y2="941.87" stroke="#000" stroke-width="2.4" />
<line x1="933.80" y1="1017.30" x2="933.80" y2="1030.30" stroke="#000" stroke-width="3.0" />
<text transform="translate(933.40,1062.10) scale(1.07,1)" font-size="33.5" text-anchor="middle" font-weight="bold" >5</text>
<line x1="1035.42" y1="1017.30" x2="1035.42" y2="1030.30" stroke="#000" stroke-width="3.0" />
<text transform="translate(1035.02,1062.10) scale(1.07,1)" font-size="33.5" text-anchor="middle" font-weight="bold" >10</text>
<line x1="1137.03" y1="1017.30" x2="1137.03" y2="1030.30" stroke="#000" stroke-width="3.0" />
<text transform="translate(1136.63,1062.10) scale(1.07,1)" font-size="33.5" text-anchor="middle" font-weight="bold" >15</text>
<line x1="1238.65" y1="1017.30" x2="1238.65" y2="1030.30" stroke="#000" stroke-width="3.0" />
<text transform="translate(1238.25,1062.10) scale(1.07,1)" font-size="33.5" text-anchor="middle" font-weight="bold" >20</text>
<line x1="1340.27" y1="1017.30" x2="1340.27" y2="1030.30" stroke="#000" stroke-width="3.0" />
<text transform="translate(1339.87,1062.10) scale(1.07,1)" font-size="33.5" text-anchor="middle" font-weight="bold" >25</text>
<line x1="1441.88" y1="1017.30" x2="1441.88" y2="1030.30" stroke="#000" stroke-width="3.0" />
<text transform="translate(1441.48,1062.10) scale(1.07,1)" font-size="33.5" text-anchor="middle" font-weight="bold" >30</text>
<line x1="1543.50" y1="1017.30" x2="1543.50" y2="1030.30" stroke="#000" stroke-width="3.0" />
<text transform="translate(1543.10,1062.10) scale(1.07,1)" font-size="33.5" text-anchor="middle" font-weight="bold" >35</text>
<text transform="translate(961.60,599.40) scale(1.07,1)" font-size="33.5" text-anchor="start" font-weight="bold" >d</text>
<text text-anchor="start"><tspan x="1078.6" y="1111.8" font-size="32.3" font-weight="bold" textLength="251" lengthAdjust="spacingAndGlyphs">Soil temperature</tspan><tspan x="1331" y="1111.8" font-size="20"> </tspan><tspan x="1335.9" y="1112.0" font-size="32" font-weight="bold" stroke-width="0.8" textLength="14.7" lengthAdjust="spacingAndGlyphs">(</tspan><tspan x="1350.2" y="1111.6" font-size="32.3" font-weight="bold" stroke-width="1.0" font-family='"Noto Serif CJK SC",serif'>℃</tspan><tspan x="1382.6" y="1112.0" font-size="32" font-weight="bold" stroke-width="0.8" textLength="14.7" lengthAdjust="spacingAndGlyphs">)</tspan></text>
<text transform="translate(802.6,791.1) rotate(-90)" font-size="33.5" font-weight="bold" text-anchor="middle" textLength="233.2" lengthAdjust="spacingAndGlyphs">Soil respiration</text>
<text transform="translate(851.30,0) rotate(-90)" text-anchor="start"><tspan x="-923.00" y="0" font-size="29" font-weight="normal" textLength="9.3" lengthAdjust="spacingAndGlyphs" stroke-width="0.3">(</tspan><tspan x="-914.80" y="0" font-size="31" font-weight="normal" stroke-width="0.5">μ</tspan><tspan x="-898.40" y="0" font-size="33.5" font-weight="bold" textLength="60.4" lengthAdjust="spacingAndGlyphs">mol</tspan><tspan x="-833.00" y="0" font-size="33.5" font-weight="bold"> </tspan><tspan x="-830.80" y="0" font-size="33.5" font-weight="bold" textLength="54.5" lengthAdjust="spacingAndGlyphs">CO</tspan><tspan x="-776.50" y="10.5" font-size="22" font-weight="bold" textLength="10.8" lengthAdjust="spacingAndGlyphs">2</tspan><tspan x="-762.00" y="0" font-size="33.5" font-weight="bold"> </tspan><tspan x="-757.50" y="0" font-size="33.5" font-weight="bold" textLength="30.2" lengthAdjust="spacingAndGlyphs">m</tspan><tspan x="-727.60" y="-16.5" font-size="22" font-weight="bold" textLength="16.8" lengthAdjust="spacingAndGlyphs">-2</tspan><tspan x="-706.00" y="0" font-size="33.5" font-weight="bold"> </tspan><tspan x="-699.70" y="0" font-size="33.5" font-weight="bold" textLength="12.3" lengthAdjust="spacingAndGlyphs">s</tspan><tspan x="-685.90" y="-16.5" font-size="22" font-weight="bold" textLength="13.8" lengthAdjust="spacingAndGlyphs">-1</tspan><tspan x="-670.80" y="0" font-size="29" font-weight="normal" textLength="9.3" lengthAdjust="spacingAndGlyphs" stroke-width="0.3">)</tspan></text>
<rect x="1183.20" y="739.30" width="10" height="10" fill="#000"/>
<rect x="1183.20" y="772.50" width="10" height="10" fill="#000"/>
<rect x="1201.70" y="797.00" width="10" height="10" fill="#000"/>
<rect x="1217.60" y="827.10" width="10" height="10" fill="#000"/>
<rect x="1128.60" y="853.50" width="10" height="10" fill="#000"/>
<rect x="1115.50" y="875.80" width="10" height="10" fill="#000"/>
<rect x="1327.10" y="692.40" width="10" height="10" fill="#000"/>
<rect x="1360.50" y="693.20" width="10" height="10" fill="#000"/>
<rect x="1372.70" y="722.10" width="10" height="10" fill="#000"/>
<rect x="1389.00" y="724.00" width="10" height="10" fill="#000"/>
<rect x="1436.10" y="737.90" width="10" height="10" fill="#000"/>
<rect x="1302.50" y="831.10" width="10" height="10" fill="#000"/>
<rect x="1342.40" y="831.60" width="10" height="10" fill="#000"/>
<rect x="1381.30" y="832.80" width="10" height="10" fill="#000"/>
<rect x="1425.20" y="894.70" width="10" height="10" fill="#000"/>
<rect x="1301.10" y="907.60" width="10" height="10" fill="#000"/>
<rect x="1405.00" y="926.00" width="10" height="10" fill="#000"/>
<rect x="1282.80" y="943.60" width="10" height="10" fill="#000"/>
<rect x="994.10" y="956.50" width="10" height="10" fill="#000"/>
<circle cx="1187.70" cy="690.10" r="5.4" fill="#f00"/>
<circle cx="1188.20" cy="738.30" r="5.4" fill="#f00"/>
<circle cx="1207.90" cy="763.70" r="5.4" fill="#f00"/>
<circle cx="1223.30" cy="769.70" r="5.4" fill="#f00"/>
<circle cx="1130.50" cy="787.50" r="5.4" fill="#f00"/>
<circle cx="1123.90" cy="865.60" r="5.4" fill="#f00"/>
<circle cx="1332.60" cy="656.90" r="5.4" fill="#f00"/>
<circle cx="1369.40" cy="654.60" r="5.4" fill="#f00"/>
<circle cx="1377.70" cy="694.20" r="5.4" fill="#f00"/>
<circle cx="1393.70" cy="692.80" r="5.4" fill="#f00"/>
<circle cx="1442.40" cy="706.90" r="5.4" fill="#f00"/>
<circle cx="1306.60" cy="799.70" r="5.4" fill="#f00"/>
<circle cx="1349.90" cy="799.70" r="5.4" fill="#f00"/>
<circle cx="1387.50" cy="800.90" r="5.4" fill="#f00"/>
<circle cx="1429.20" cy="857.70" r="5.4" fill="#f00"/>
<circle cx="1306.10" cy="907.60" r="5.4" fill="#f00"/>
<circle cx="1409.50" cy="915.20" r="5.4" fill="#f00"/>
<circle cx="1287.80" cy="948.00" r="5.4" fill="#f00"/>
<circle cx="999.10" cy="946.80" r="5.4" fill="#f00"/>
<polygon points="1187.70,777.40 1180.95,789.40 1194.45,789.40" fill="#00f"/>
<polygon points="1187.70,785.30 1180.95,797.30 1194.45,797.30" fill="#00f"/>
<polygon points="1207.90,818.30 1201.15,830.30 1214.65,830.30" fill="#00f"/>
<polygon points="1222.60,874.80 1215.85,886.80 1229.35,886.80" fill="#00f"/>
<polygon points="1122.00,874.80 1115.25,886.80 1128.75,886.80" fill="#00f"/>
<polygon points="1133.10,877.60 1126.35,889.60 1139.85,889.60" fill="#00f"/>
<polygon points="1332.50,730.40 1325.75,742.40 1339.25,742.40" fill="#00f"/>
<polygon points="1365.20,729.90 1358.45,741.90 1371.95,741.90" fill="#00f"/>
<polygon points="1376.60,749.70 1369.85,761.70 1383.35,761.70" fill="#00f"/>
<polygon points="1394.20,758.00 1387.45,770.00 1400.95,770.00" fill="#00f"/>
<polygon points="1440.30,759.40 1433.55,771.40 1447.05,771.40" fill="#00f"/>
<polygon points="1306.30,855.20 1299.55,867.20 1313.05,867.20" fill="#00f"/>
<polygon points="1347.90,846.20 1341.15,858.20 1354.65,858.20" fill="#00f"/>
<polygon points="1385.70,838.80 1378.95,850.80 1392.45,850.80" fill="#00f"/>
<polygon points="1429.20,908.70 1422.45,920.70 1435.95,920.70" fill="#00f"/>
<polygon points="1299.00,914.10 1292.25,926.10 1305.75,926.10" fill="#00f"/>
<polygon points="1409.10,928.50 1402.35,940.50 1415.85,940.50" fill="#00f"/>
<polygon points="1287.30,944.40 1280.55,956.40 1294.05,956.40" fill="#00f"/>
<polygon points="999.10,959.20 992.35,971.20 1005.85,971.20" fill="#00f"/>
<line x1="998.80" y1="882.60" x2="1441.80" y2="785.50" stroke="#e8ee10" stroke-width="2.4" stroke-linecap="round"/>
<text x="1301.8" y="968.0" font-size="24.5" font-weight="bold" textLength="232.5" lengthAdjust="spacingAndGlyphs">y = 0.1181x + 2.6033</text>
<text x="1301.8" y="1004" font-size="24.5" font-weight="bold" textLength="205.4" lengthAdjust="spacingAndGlyphs"><tspan font-style="italic">R</tspan><tspan font-size="15.5" dy="-10">2</tspan><tspan dy="10"> = 0.09, </tspan><tspan font-style="italic">p</tspan> <tspan font-weight="normal" stroke-width="0.3">&lt;</tspan> 0.05</text>
</g>
</svg>
</body></html>
